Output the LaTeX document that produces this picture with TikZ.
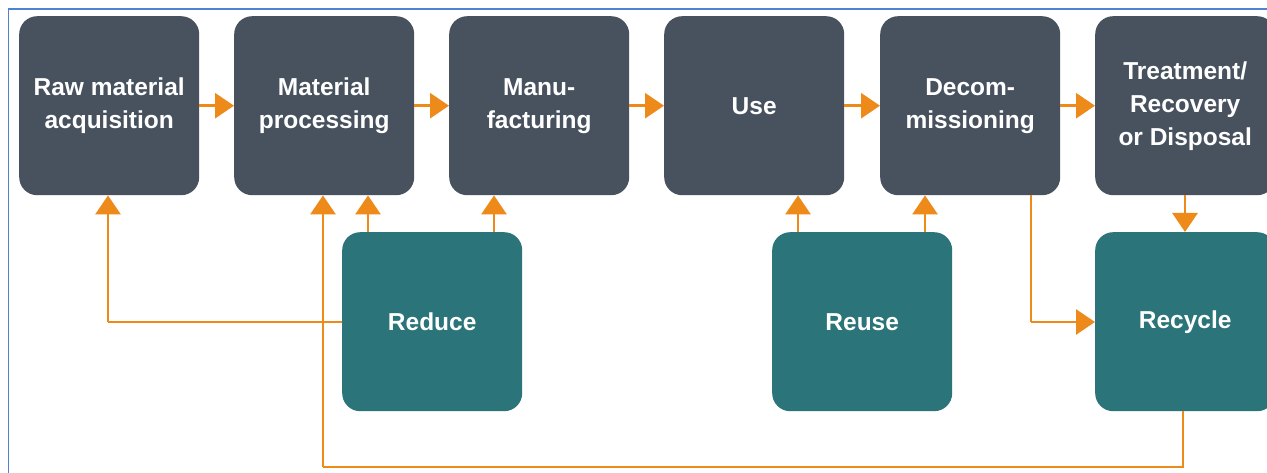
\documentclass[tikz,border=0pt]{standalone}
\usepackage{fontspec}
\setmainfont{Liberation Sans}
\usetikzlibrary{arrows.meta}
\definecolor{boxdark}{HTML}{48525E}
\definecolor{boxteal}{HTML}{2B7479}
\definecolor{flow}{HTML}{EE8A1A}
\definecolor{frameblue}{HTML}{4F82D2}
\begin{document}
\begin{tikzpicture}[x=1pt,y=-1pt,
  stage/.style={fill=boxdark, rounded corners=18pt, minimum width=180pt, minimum height=179pt,
    inner sep=0pt, text=white, font=\bfseries\fontsize{24.5}{33}\selectfont, align=center, anchor=north west},
  rstage/.style={stage, fill=boxteal},
  link/.style={draw=flow, line width=2.8pt, -{Triangle[length=19pt,width=25pt]}},
  plain/.style={draw=flow, line width=2.8pt}]
\useasboundingbox (0,0) rectangle (1267,473);
\fill[white] (0,0) rectangle (1267,473);
\draw[frameblue, line width=1.8pt] (8.5,480) -- (8.5,9) -- (1280,9);
% top row
\node[stage] (raw)  at (19,16)   {Raw material\\acquisition};
\node[stage] (proc) at (234,16)  {Material\\processing};
\node[stage] (manu) at (449,16)  {Manu-\\facturing};
\node[stage] (use)  at (664,16)  {Use};
\node[stage] (dec)  at (880,16)  {Decom-\\missioning};
\node[stage] (trt)  at (1095,16) {Treatment/\\Recovery\\or Disposal};
% bottom row
\node[rstage] (red) at (342,232)  {Reduce};
\node[rstage] (reu) at (772,232)  {Reuse};
\node[rstage] (rec) at (1095,232) {Recycle};
% horizontal flow
\draw[link] (raw.east)  -- (proc.west);
\draw[link] (proc.east) -- (manu.west);
\draw[link] (manu.east) -- (use.west);
\draw[link] (use.east)  -- (dec.west);
\draw[link] (dec.east)  -- (trt.west);
% coordinates
\coordinate (c1) at (108,322);
\coordinate (c2) at (1031,322);
\coordinate (c3) at (1183,467);
\coordinate (c4) at (323,467);
% Reduce links
\draw[plain] (red.west |- c1) -- (c1);
\draw[link] (c1) -- (raw.south -| c1);
\draw[link] (red.north -| 368,0) -- (proc.south -| 368,0);
\draw[link] (red.north -| 494,0) -- (manu.south -| 494,0);
% Reuse links
\draw[link] (reu.north -| 798,0) -- (use.south -| 798,0);
\draw[link] (reu.north -| 925,0) -- (dec.south -| 925,0);
% Decommissioning to Recycle
\draw[plain] (dec.south -| c2) -- (c2);
\draw[link] (c2) -- (rec.west |- c2);
% Treatment to Recycle
\draw[link] (trt.south -| 1185,0) -- (rec.north -| 1185,0);
% Recycle back to processing
\draw[plain] (rec.south -| c3) -- (c3) -- (c4);
\draw[link] (c4) -- (proc.south -| c4);
\end{tikzpicture}
\end{document}
